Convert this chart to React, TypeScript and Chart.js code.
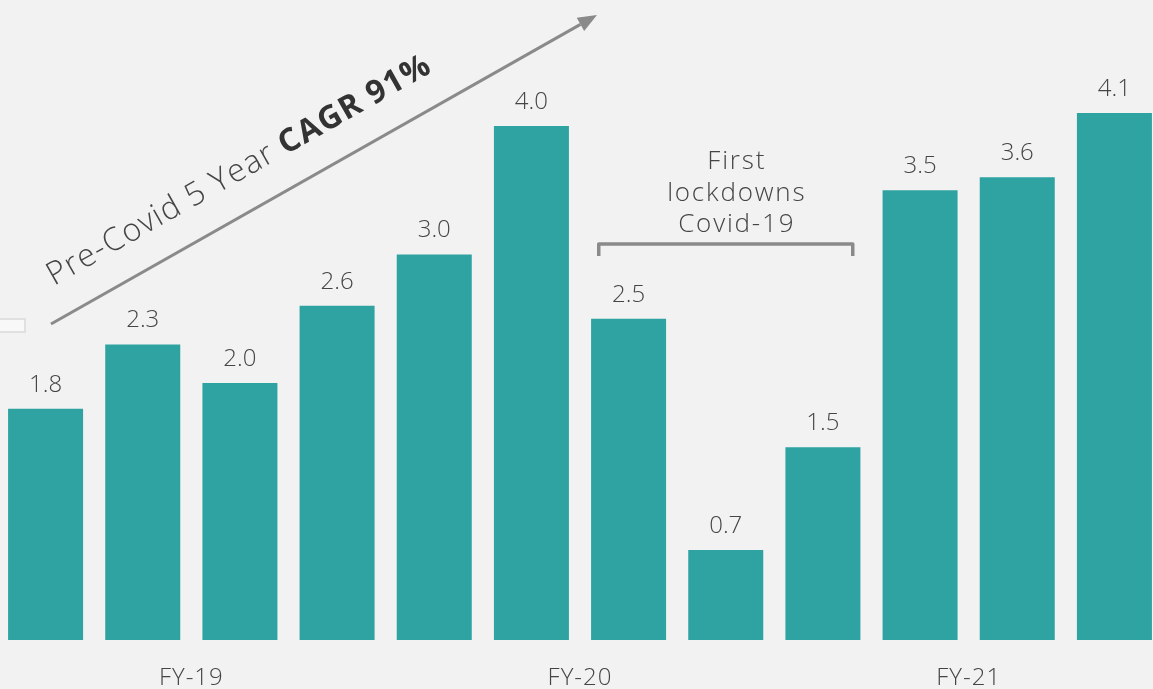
import { useEffect, useRef } from "react";
import { Chart, registerables } from "chart.js";

Chart.register(...registerables);

// Quarterly values, four quarters per fiscal year
const quarters = [
  "FY-19 Q1", "FY-19 Q2", "FY-19 Q3", "FY-19 Q4",
  "FY-20 Q1", "FY-20 Q2", "FY-20 Q3", "FY-20 Q4",
  "FY-21 Q1", "FY-21 Q2", "FY-21 Q3", "FY-21 Q4",
];
const values = [1.8, 2.3, 2.0, 2.6, 3.0, 4.0, 2.5, 0.7, 1.5, 3.5, 3.6, 4.1];

// Fiscal-year labels sit in the middle of each group of four quarters
const yearLabels = ["FY-19", "FY-20", "FY-21"];
const yearCenters = [1.5, 5.5, 9.5];

const growthText = "Pre-Covid 5 Year ";
const growthBold = "CAGR 91%";
const lockdownLines = ["First", "lockdowns", "Covid-19"];

const BG = "#f2f2f2";
const BAR = "#2ea3a1";
const TEXT = "#454545";
const LINE = "#8a8a8a";
const FONT = "'Open Sans', 'DejaVu Sans', sans-serif";

// canvas is shifted left so the first bar sits against the page edge
const SHIFT = 3;

const valueLabels = {
  id: "valueLabels",
  afterDatasetsDraw(chart: any) {
    const { ctx } = chart;
    const meta = chart.getDatasetMeta(0);
    ctx.save();
    ctx.fillStyle = TEXT;
    ctx.font = `300 24px ${FONT}`;
    ctx.textAlign = "center";
    ctx.textBaseline = "alphabetic";
    meta.data.forEach((bar: any, i: number) => {
      ctx.fillText(values[i].toFixed(1), bar.x, bar.y - 17);
    });
    ctx.restore();
  },
};

// fiscal-year labels placed between the 2nd and 3rd quarter of each year
const yearAxis = {
  id: "yearAxis",
  afterDraw(chart: any) {
    const { ctx, scales, chartArea } = chart;
    const x = scales.x;
    ctx.save();
    ctx.fillStyle = TEXT;
    ctx.font = `300 24px ${FONT}`;
    (ctx as any).letterSpacing = "1px";
    ctx.textAlign = "center";
    ctx.textBaseline = "alphabetic";
    yearCenters.forEach((v, i) => {
      const px = (x.getPixelForValue(Math.floor(v)) + x.getPixelForValue(Math.ceil(v))) / 2;
      ctx.fillText(yearLabels[i], px, chartArea.bottom + 45);
    });
    ctx.restore();
  },
};

const annotations = {
  id: "annotations",
  afterDraw(chart: any) {
    const { ctx, scales } = chart;
    const x = scales.x;
    ctx.save();

    // small leftover box at the left edge
    ctx.fillStyle = "#f8f8f8";
    ctx.strokeStyle = "#e0e0e0";
    ctx.lineWidth = 2;
    ctx.fillRect(SHIFT - 2, 319, 27, 13);
    ctx.strokeRect(SHIFT - 2, 319, 27, 13);

    // growth arrow
    const ax0 = 51 + SHIFT, ay0 = 324;
    const ax1 = 597 + SHIFT, ay1 = 15;
    const ang = Math.atan2(ay1 - ay0, ax1 - ax0);
    const head = 19, half = 7.5;
    const bx = ax1 - head * Math.cos(ang), by = ay1 - head * Math.sin(ang);
    ctx.strokeStyle = LINE;
    ctx.lineWidth = 3;
    ctx.beginPath();
    ctx.moveTo(ax0, ay0);
    ctx.lineTo(bx, by);
    ctx.stroke();
    ctx.fillStyle = LINE;
    ctx.beginPath();
    ctx.moveTo(ax1, ay1);
    ctx.lineTo(bx + half * Math.sin(ang), by - half * Math.cos(ang));
    ctx.lineTo(bx - half * Math.sin(ang), by + half * Math.cos(ang));
    ctx.closePath();
    ctx.fill();

    // rotated caption along the arrow
    ctx.translate(54 + SHIFT, 286);
    ctx.rotate(ang);
    ctx.fillStyle = TEXT;
    ctx.textAlign = "left";
    ctx.textBaseline = "alphabetic";
    (ctx as any).letterSpacing = "1.2px";
    ctx.font = `300 32px ${FONT}`;
    ctx.fillText(growthText, 0, 0);
    const w = ctx.measureText(growthText).width;
    ctx.fillStyle = "#333333";
    ctx.font = `bold 32px ${FONT}`;
    ctx.fillText(growthBold, w, 0);
    ctx.setTransform(1, 0, 0, 1, 0, 0);

    // bracket over the lockdown quarters
    const cx = x.getPixelForValue(7);
    const left = cx - 127, right = cx + 127;
    ctx.strokeStyle = LINE;
    ctx.lineWidth = 3.5;
    ctx.lineJoin = "round";
    ctx.beginPath();
    ctx.moveTo(left, 256);
    ctx.lineTo(left, 244);
    ctx.lineTo(right, 244);
    ctx.lineTo(right, 256);
    ctx.stroke();

    ctx.fillStyle = TEXT;
    ctx.font = `300 26px ${FONT}`;
    (ctx as any).letterSpacing = "1.8px";
    ctx.textAlign = "center";
    lockdownLines.forEach((line, i) => {
      ctx.fillText(line, cx + 11, 169 + i * 31.5);
    });
    ctx.restore();
  },
};

export default function App() {
  const canvasRef = useRef<HTMLCanvasElement>(null);

  useEffect(() => {
    const canvas = canvasRef.current;
    if (!canvas) return;
    const chart = new Chart(canvas, {
      type: "bar",
      data: {
        labels: quarters,
        datasets: [
          {
            data: values,
            backgroundColor: BAR,
            borderWidth: 0,
            barPercentage: 0.772,
            categoryPercentage: 1,
          },
        ],
      },
      options: {
        responsive: false,
        animation: false,
        devicePixelRatio: 1,
        layout: { padding: { top: 0, left: 0, right: 0, bottom: 49 } },
        plugins: {
          legend: { display: false },
          tooltip: { enabled: false },
        },
        scales: {
          x: { display: false, offset: true },
          y: { display: false, min: 0, max: 4.98 },
        },
      },
      plugins: [valueLabels, yearAxis, annotations],
    });
    return () => chart.destroy();
  }, []);

  return (
    <div
      style={{
        position: "fixed",
        left: 0,
        top: 0,
        width: 1153,
        height: 689,
        overflow: "hidden",
        background: BG,
      }}
    >
      <canvas
        ref={canvasRef}
        width={1166}
        height={689}
        style={{ position: "absolute", left: -SHIFT, top: 0, width: 1166, height: 689 }}
      />
    </div>
  );
}
